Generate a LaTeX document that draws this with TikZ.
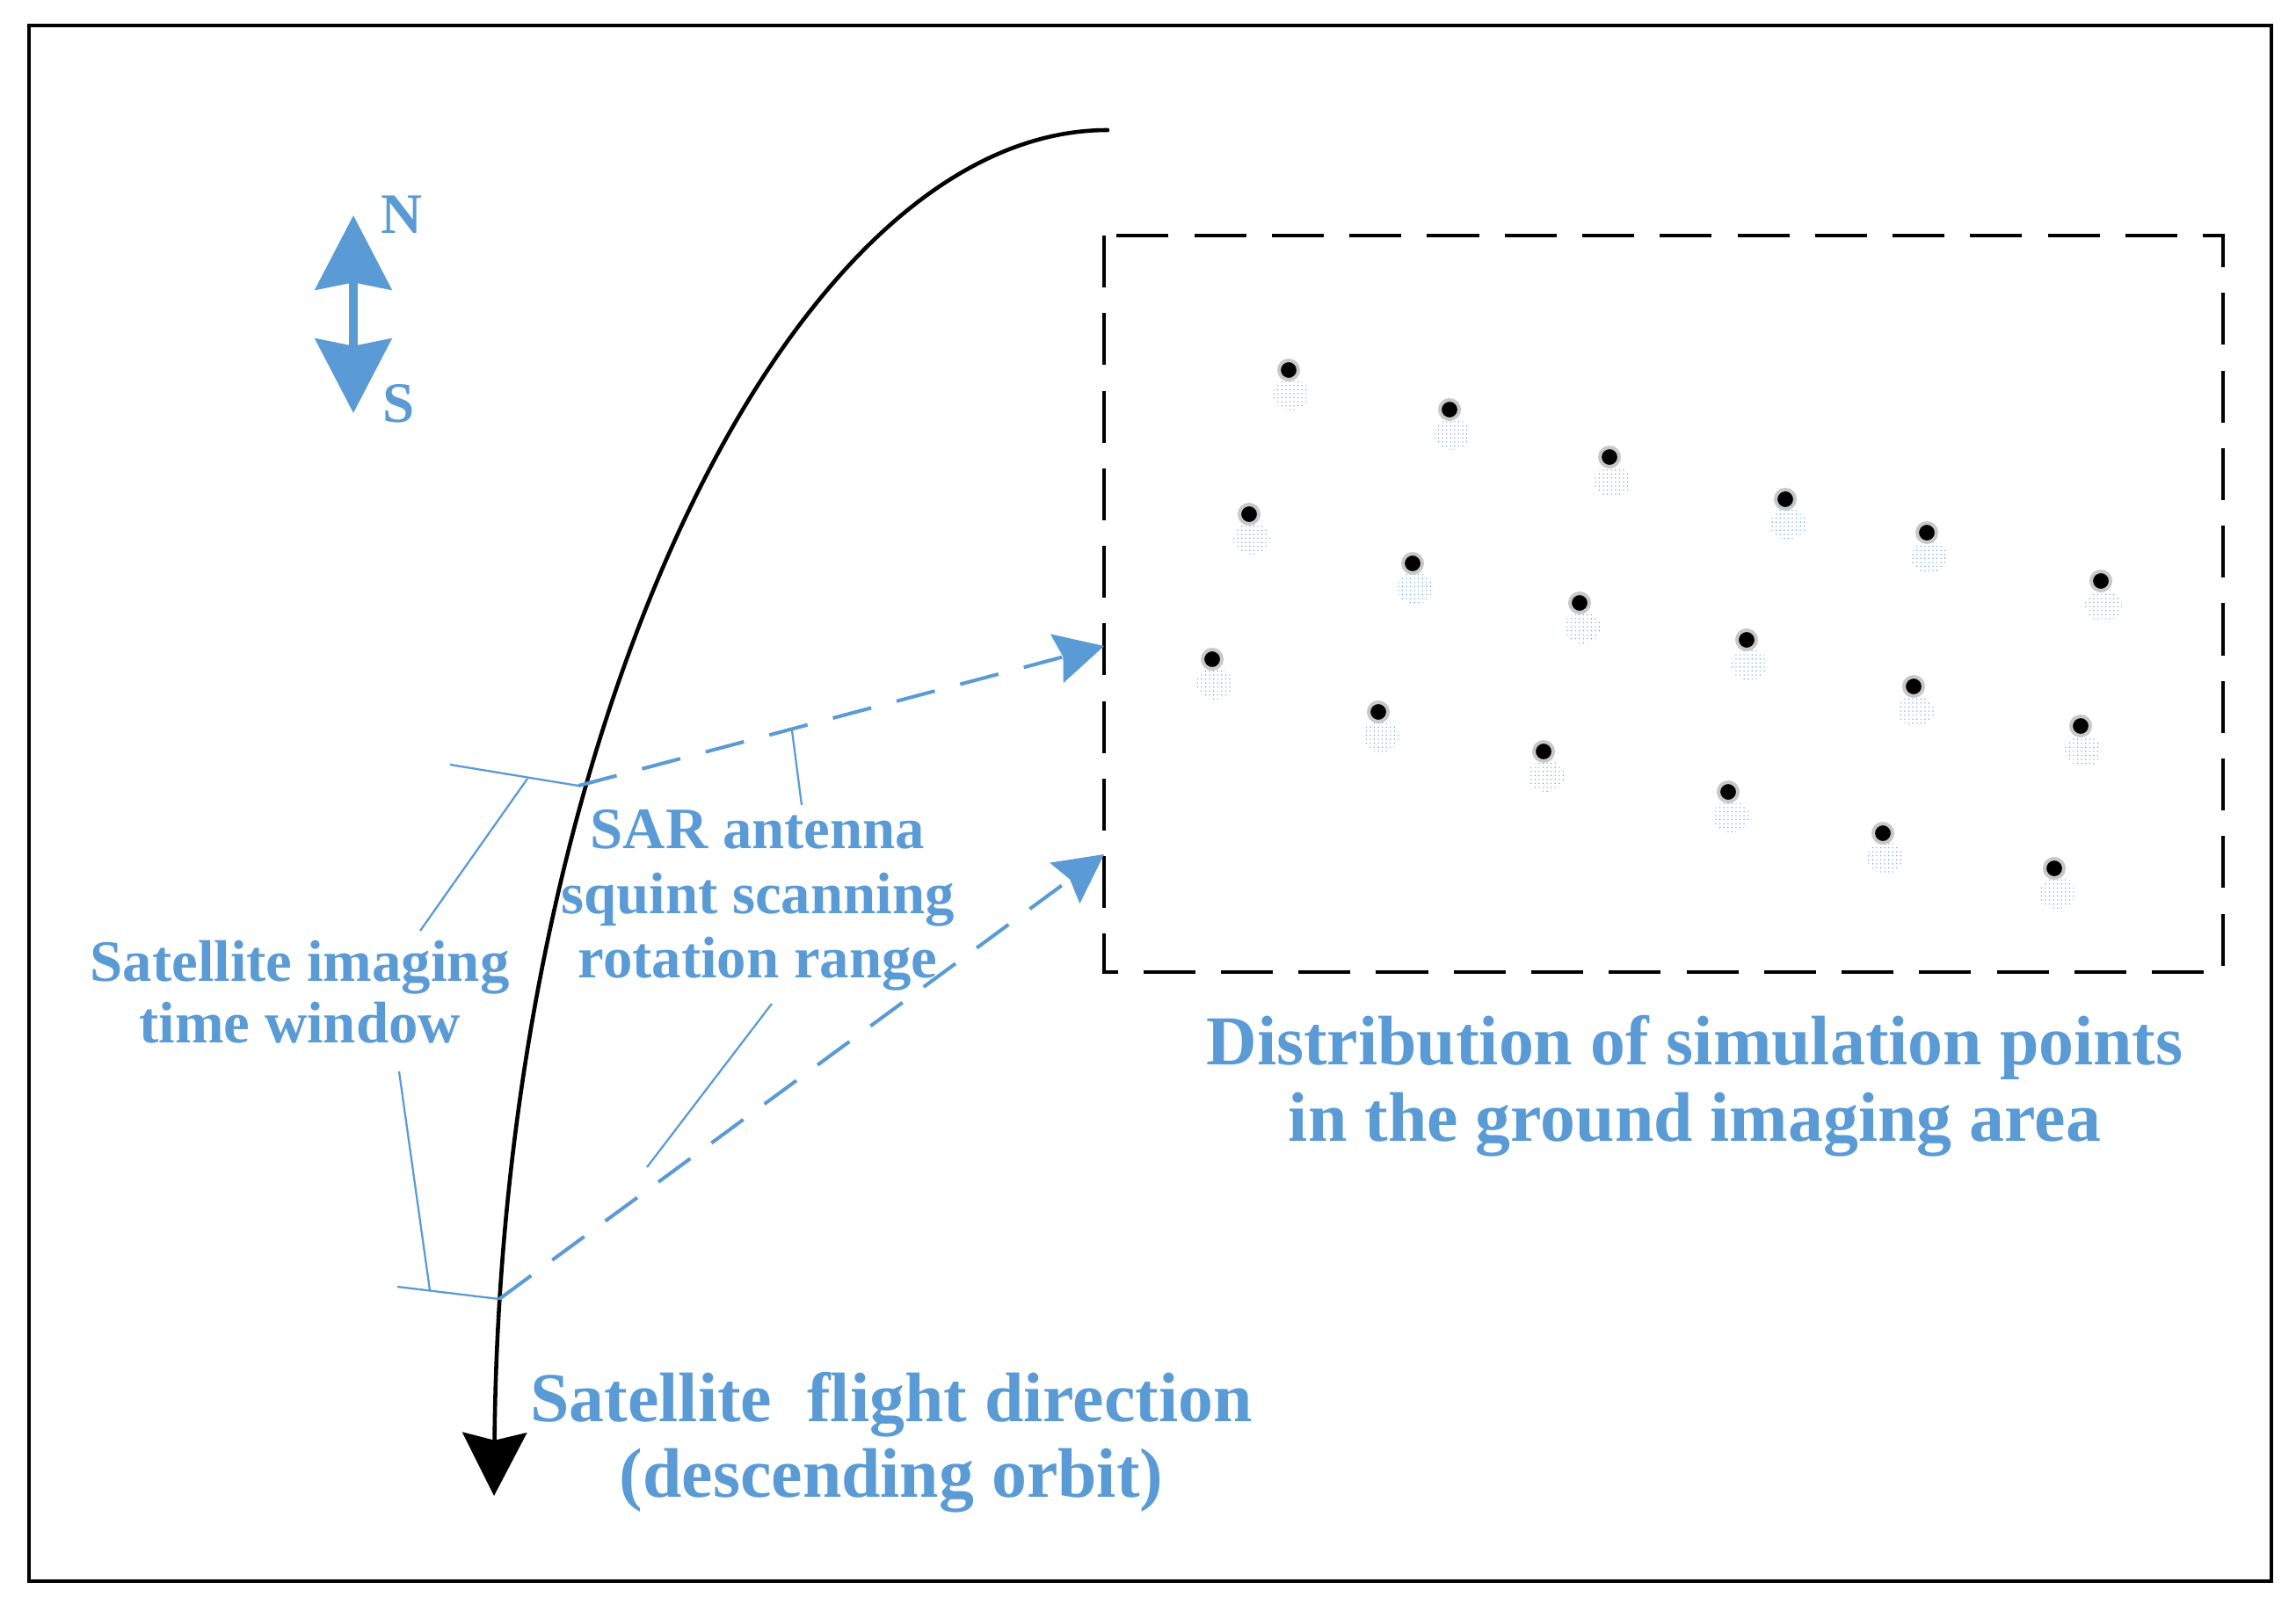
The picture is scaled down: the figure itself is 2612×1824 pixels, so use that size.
\documentclass[tikz,border=0pt]{standalone}
\usepackage{fontspec}
\setmainfont{Liberation Serif}
\usetikzlibrary{arrows.meta,patterns.meta}
\definecolor{sarblue}{RGB}{91,155,213}
\definecolor{ringgray}{RGB}{200,200,200}
\begin{document}
\begin{tikzpicture}[x=0.01cm,y=-0.01cm,
  lbl/.style={text=sarblue, font=\bfseries\fontsize{19}{21}\selectfont, inner sep=0pt, anchor=base},
  biglbl/.style={text=sarblue, font=\bfseries\fontsize{22.7}{25}\selectfont, inner sep=0pt, anchor=base},
  nslbl/.style={text=sarblue, font=\bfseries\fontsize{18.5}{20}\selectfont, inner sep=0pt, anchor=base west},
  leader/.style={draw=sarblue, line width=0.65pt},
  beam/.style={draw=sarblue, line width=1.15pt, dash pattern=on 12.8pt off 8.5pt,
    -{Stealth[length=15.7pt,width=16.2pt,inset=2pt]}},
  simpt/.style={circle, fill=black, draw=ringgray, line width=1.14pt, minimum size=0.22cm, inner sep=0pt},
  shade/.style={pattern={Dots[distance=1.3pt,radius=0.2pt]}, pattern color=sarblue},
  ]
\useasboundingbox (0,0) rectangle (2612,1824);
% outer frame
\draw[line width=1.14pt] (33,29) rectangle (2584,1799);

% ground imaging area
\draw[line width=0.95pt, dash pattern=on 16.8pt off 8.3pt] (1256,268) rectangle (2529,1106);

% simulation points
\foreach \n/\x/\y in {1/1466/421, 2/1649/466, 3/1831/520, 4/2031/568, 5/2192/606, 6/2390/661,
                      7/1421/585, 8/1607/641, 9/1797/686, 10/1987/728, 11/2177/781, 12/2367/826,
                      13/1379/750, 14/1568/810, 15/1756/855, 16/1966/901, 17/2142/948, 18/2337/988}{
  \fill[shade] (\x+3,\y+28) ellipse (21 and 18);
  \node[simpt] (p\n) at (\x,\y) {};
}

% N-S arrow
\coordinate (nsN) at (402,245);
\coordinate (nsS) at (402,470);
\draw[sarblue, line width=3.1pt,
  {Stealth[length=24pt,width=24.5pt,inset=2.3pt]}-{Stealth[length=24pt,width=24.5pt,inset=2.3pt]}]
  (nsN) -- (nsS);
\node[nslbl] (labN) at (433,265) {N};
\node[nslbl] (labS) at (435,480) {S};

% orbit
\coordinate (orbA) at (1260,148);
\coordinate (orbB) at (562,1702);
\draw[line width=1.3pt, line cap=round, -{Stealth[length=20.5pt,width=20.8pt,inset=2.5pt]}]
  (orbA) .. controls (900,148) and (570,830) .. (orbB);

% beams
\coordinate (u0) at (658,894);
\coordinate (u1) at (1256,735);
\coordinate (l0) at (568,1478);
\coordinate (l1) at (1256,972);
\draw[beam] (u0) -- (u1);
\draw[beam] (l0) -- (l1);

% time window bracket
\coordinate (ub) at (512,870);
\coordinate (lb) at (452,1464);
\draw[leader] (ub) -- (u0);
\draw[leader] (lb) -- (l0);
\coordinate (tw1a) at (600,886);
\coordinate (tw1b) at (478,1059);
\coordinate (tw2a) at (454,1219);
\coordinate (tw2b) at (489,1468);
\draw[leader] (tw1a) -- (tw1b);
\draw[leader] (tw2a) -- (tw2b);

% squint range leaders
\coordinate (sq1a) at (901,831);
\coordinate (sq1b) at (912,916);
\coordinate (sq2a) at (878,1142);
\coordinate (sq2b) at (736,1328);
\draw[leader] (sq1a) -- (sq1b);
\draw[leader] (sq2a) -- (sq2b);

% labels
\node[lbl] (tw1) at (341,1116) {Satellite imaging};
\node[lbl] (tw2) at (341,1186) {time window};
\node[lbl] (sr1) at (862,965) {SAR antenna};
\node[lbl] (sr2) at (862,1039) {squint scanning};
\node[lbl] (sr3) at (862,1112) {rotation range};
\node[biglbl] (fd1) at (1014,1617) {Satellite\ \ flight direction};
\node[biglbl] (fd2) at (1014,1703) {(descending orbit)};
\node[biglbl] (ds1) at (1928,1211) {Distribution of simulation points};
\node[biglbl] (ds2) at (1928,1298) {in the ground imaging area};
\end{tikzpicture}
\end{document}
